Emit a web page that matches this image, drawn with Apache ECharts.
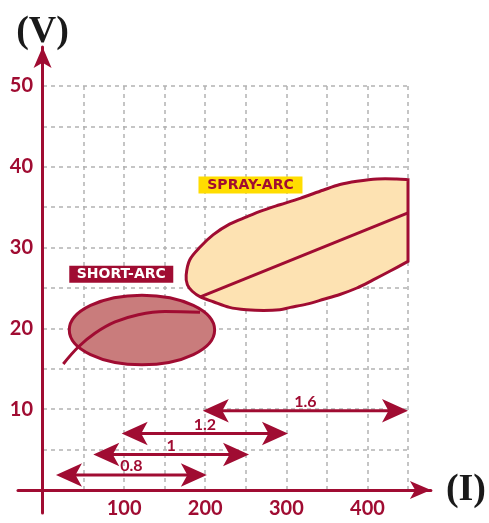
<!DOCTYPE html>
<html>
<head>
<meta charset="utf-8">
<script src="https://cdn.jsdelivr.net/npm/echarts@6/dist/echarts.min.js"></script>
<style>
  html, body { margin: 0; padding: 0; background: #fff; }
  #main { width: 489px; height: 523px; }
</style>
</head>
<body>
<div id="main"></div>
<script>
// tick labels
var xTicks = [100, 200, 300, 400];
var yTicks = [10, 20, 30, 40, 50];

// short-arc zone: ellipse centre (I, V) and half sizes (I, V)
var shortEllipse = [122, 19.8, 89.6, 4.31];
var shortCurveI = [25, 43.5, 64, 88.8, 117.5, 150.4, 193.6];
var shortCurveV = [15.6, 17.7, 19.4, 20.8, 21.7, 22.1, 22.0];

// spray-arc zone outline: top edge right->left, then bottom edge left->right
var sprayI = [450, 436, 412, 387, 366, 345, 317, 292, 271, 251, 230, 210, 194, 181, 176.5,
              178, 184, 194, 210, 230, 251, 272, 292, 305, 325, 346, 366, 387, 407, 428, 450];
var sprayV = [38.4, 38.5, 38.5, 38.2, 37.8, 37.1, 36.1, 35.3, 34.6, 33.8, 32.9, 31.6, 30.1, 28.5, 26.6,
              25.4, 24.6, 23.9, 23.3, 22.6, 22.3, 22.2, 22.3, 22.6, 23.0, 23.6, 24.2, 25.0, 26.0, 27.1, 28.3];
var sprayLineI = [194, 450];
var sprayLineV = [23.9, 34.3];

// wire diameters and their current ranges
var wireLabels = ['1.6', '1.2', '1', '0.8'];
var wireFrom = [197, 97, 62, 16];
var wireTo = [450, 302, 254, 202];
var wireV = [9.8, 7.0, 4.4, 1.85];

// zone tags
var zoneNames = ['SHORT-ARC', 'SPRAY-ARC'];
var zoneI = [96.5, 255.8];
var zoneV = [26.7, 37.75];

var RED = '#a00c32';
var chart = echarts.init(document.getElementById('main'));

// plot area in pixels (0..450 A, 0..50 V)
var X0 = 43, Y0 = 490, X450 = 408, Y50 = 86;
var pxI = (X450 - X0) / 450, pxV = (Y0 - Y50) / 50;
// the drawn axes reach further than the grid
var axL = 18, axR = 438, axT = 47, axB = 513;

function splinePath(pts) {
  var d = 'M' + pts[0][0] + ',' + pts[0][1];
  for (var i = 0; i < pts.length - 1; i++) {
    var p0 = pts[Math.max(i - 1, 0)], p1 = pts[i], p2 = pts[i + 1], p3 = pts[Math.min(i + 2, pts.length - 1)];
    var c1x = p1[0] + (p2[0] - p0[0]) / 6, c1y = p1[1] + (p2[1] - p0[1]) / 6;
    var c2x = p2[0] - (p3[0] - p1[0]) / 6, c2y = p2[1] - (p3[1] - p1[1]) / 6;
    d += ' C' + [c1x, c1y, c2x, c2y, p2[0], p2[1]].join(',');
  }
  return d + ' Z';
}

var option = {
  animation: false,
  grid: [
    { left: X0, top: Y50, width: X450 - X0, height: Y0 - Y50 },
    { left: axL, top: axT, width: axR - axL, height: axB - axT }
  ],
  xAxis: [{
    type: 'value', gridIndex: 0, min: 0, max: 450, interval: 50,
    axisLine: { show: false }, axisTick: { show: false },
    splitLine: { show: true, lineStyle: { color: '#b3b3b3', width: 1.5, type: [4, 4] } },
    axisLabel: {
      margin: 9, color: RED, fontFamily: 'Lato', fontWeight: 'bold', fontSize: 20,
      formatter: function (v) { return xTicks.indexOf(v) >= 0 ? String(v) : ''; }
    }
  }, {
    type: 'value', gridIndex: 1,
    min: -(X0 - axL) / pxI, max: (axR - X0) / pxI,
    axisLine: { show: true, onZero: true, symbol: ['none', 'arrow'], symbolSize: [13.5, 21],
      lineStyle: { color: RED, width: 3 } },
    axisTick: { show: false }, axisLabel: { show: false }, splitLine: { show: false },
    name: '(I)', nameLocation: 'end', nameGap: 15,
    nameTextStyle: { fontFamily: 'Liberation Serif', fontWeight: 'bold', fontSize: 38, color: '#1a1a1a', verticalAlign: 'middle' }
  }],
  yAxis: [{
    type: 'value', gridIndex: 0, min: 0, max: 50, interval: 5,
    axisLine: { show: false }, axisTick: { show: false },
    splitLine: { show: true, lineStyle: { color: '#b3b3b3', width: 1.5, type: [4, 4] } },
    axisLabel: {
      margin: 10, color: RED, fontFamily: 'Lato', fontWeight: 'bold', fontSize: 20,
      formatter: function (v) { return yTicks.indexOf(v) >= 0 ? String(v) : ''; }
    }
  }, {
    type: 'value', gridIndex: 1,
    min: -(axB - Y0) / pxV, max: (Y0 - axT) / pxV,
    axisLine: { show: true, onZero: true, symbol: ['none', 'arrow'], symbolSize: [13.5, 21],
      lineStyle: { color: RED, width: 3 } },
    axisTick: { show: false }, axisLabel: { show: false }, splitLine: { show: false },
    name: '(V)', nameLocation: 'end', nameGap: -4,
    nameTextStyle: { fontFamily: 'Liberation Serif', fontWeight: 'bold', fontSize: 38, color: '#1a1a1a' }
  }],
  series: [
    {
      // short-arc ellipse
      type: 'custom', xAxisIndex: 0, yAxisIndex: 0, clip: false,
      data: [shortEllipse], encode: { x: 0, y: 1 },
      renderItem: function (params, api) {
        var c = api.coord([api.value(0), api.value(1)]);
        var s = api.size([api.value(2), api.value(3)]);
        return {
          type: 'ellipse',
          shape: { cx: c[0], cy: c[1], rx: s[0], ry: s[1] },
          style: { fill: '#c97c7c', stroke: RED, lineWidth: 3 }
        };
      }
    },
    {
      type: 'line', xAxisIndex: 0, yAxisIndex: 0, clip: false,
      data: shortCurveI.map(function (v, i) { return [v, shortCurveV[i]]; }),
      smooth: 0.4, showSymbol: false, symbol: 'none',
      lineStyle: { color: RED, width: 3 }
    },
    {
      // spray-arc zone
      type: 'custom', xAxisIndex: 0, yAxisIndex: 0, clip: false,
      data: [[sprayI[0], sprayV[0]]], encode: { x: 0, y: 1 },
      renderItem: function (params, api) {
        var pts = sprayI.map(function (v, i) { return api.coord([v, sprayV[i]]); });
        return {
          type: 'path',
          shape: { pathData: splinePath(pts) },
          style: { fill: '#fde2b2', stroke: RED, lineWidth: 3, lineJoin: 'miter' }
        };
      }
    },
    {
      type: 'line', xAxisIndex: 0, yAxisIndex: 0, clip: false,
      data: sprayLineI.map(function (v, i) { return [v, sprayLineV[i]]; }),
      showSymbol: false, symbol: 'none',
      lineStyle: { color: RED, width: 3 }
    },
    {
      // current range for each wire diameter
      type: 'custom', xAxisIndex: 0, yAxisIndex: 0, clip: false,
      data: wireFrom.map(function (v, i) { return [v, wireTo[i], wireV[i]]; }),
      encode: { x: [0, 1], y: 2 },
      renderItem: function (params, api) {
        var a = api.coord([api.value(0), api.value(2)]);
        var b = api.coord([api.value(1), api.value(2)]);
        var y = a[1], x1 = a[0], x2 = b[0], L = 26, hw = 11.8;
        return {
          type: 'group',
          children: [
            { type: 'line', shape: { x1: x1 + 0.7 * L, y1: y, x2: x2 - 0.7 * L, y2: y },
              style: { stroke: RED, lineWidth: 3 } },
            { type: 'polygon', shape: { points: [[x1, y], [x1 + L, y - hw], [x1 + 0.75 * L, y], [x1 + L, y + hw]] },
              style: { fill: RED } },
            { type: 'polygon', shape: { points: [[x2, y], [x2 - L, y - hw], [x2 - 0.75 * L, y], [x2 - L, y + hw]] },
              style: { fill: RED } },
            { type: 'text', x: (x1 + x2) / 2, y: y - 1,
              style: { text: wireLabels[params.dataIndex], fill: RED, font: 'bold 16px Lato',
                align: 'center', verticalAlign: 'bottom' } }
          ]
        };
      }
    },
    {
      // zone tags
      type: 'custom', xAxisIndex: 0, yAxisIndex: 0, clip: false,
      data: zoneI.map(function (v, i) { return [v, zoneV[i]]; }), encode: { x: 0, y: 1 },
      renderItem: function (params, api) {
        var p = api.coord([api.value(0), api.value(1)]);
        var first = params.dataIndex === 0;
        return {
          type: 'group',
          children: [
            { type: 'rect', shape: { x: p[0] - 52, y: p[1] - 8.5, width: 104, height: 17 },
              style: { fill: first ? RED : '#ffdd00' } },
            { type: 'text', x: p[0], y: p[1] + 0.5,
              style: { text: zoneNames[params.dataIndex], fill: first ? '#ffffff' : RED,
                font: 'bold 14px "DejaVu Sans"', align: 'center', verticalAlign: 'middle' } }
          ]
        };
      }
    }
  ]
};

chart.setOption(option);
</script>
</body>
</html>
